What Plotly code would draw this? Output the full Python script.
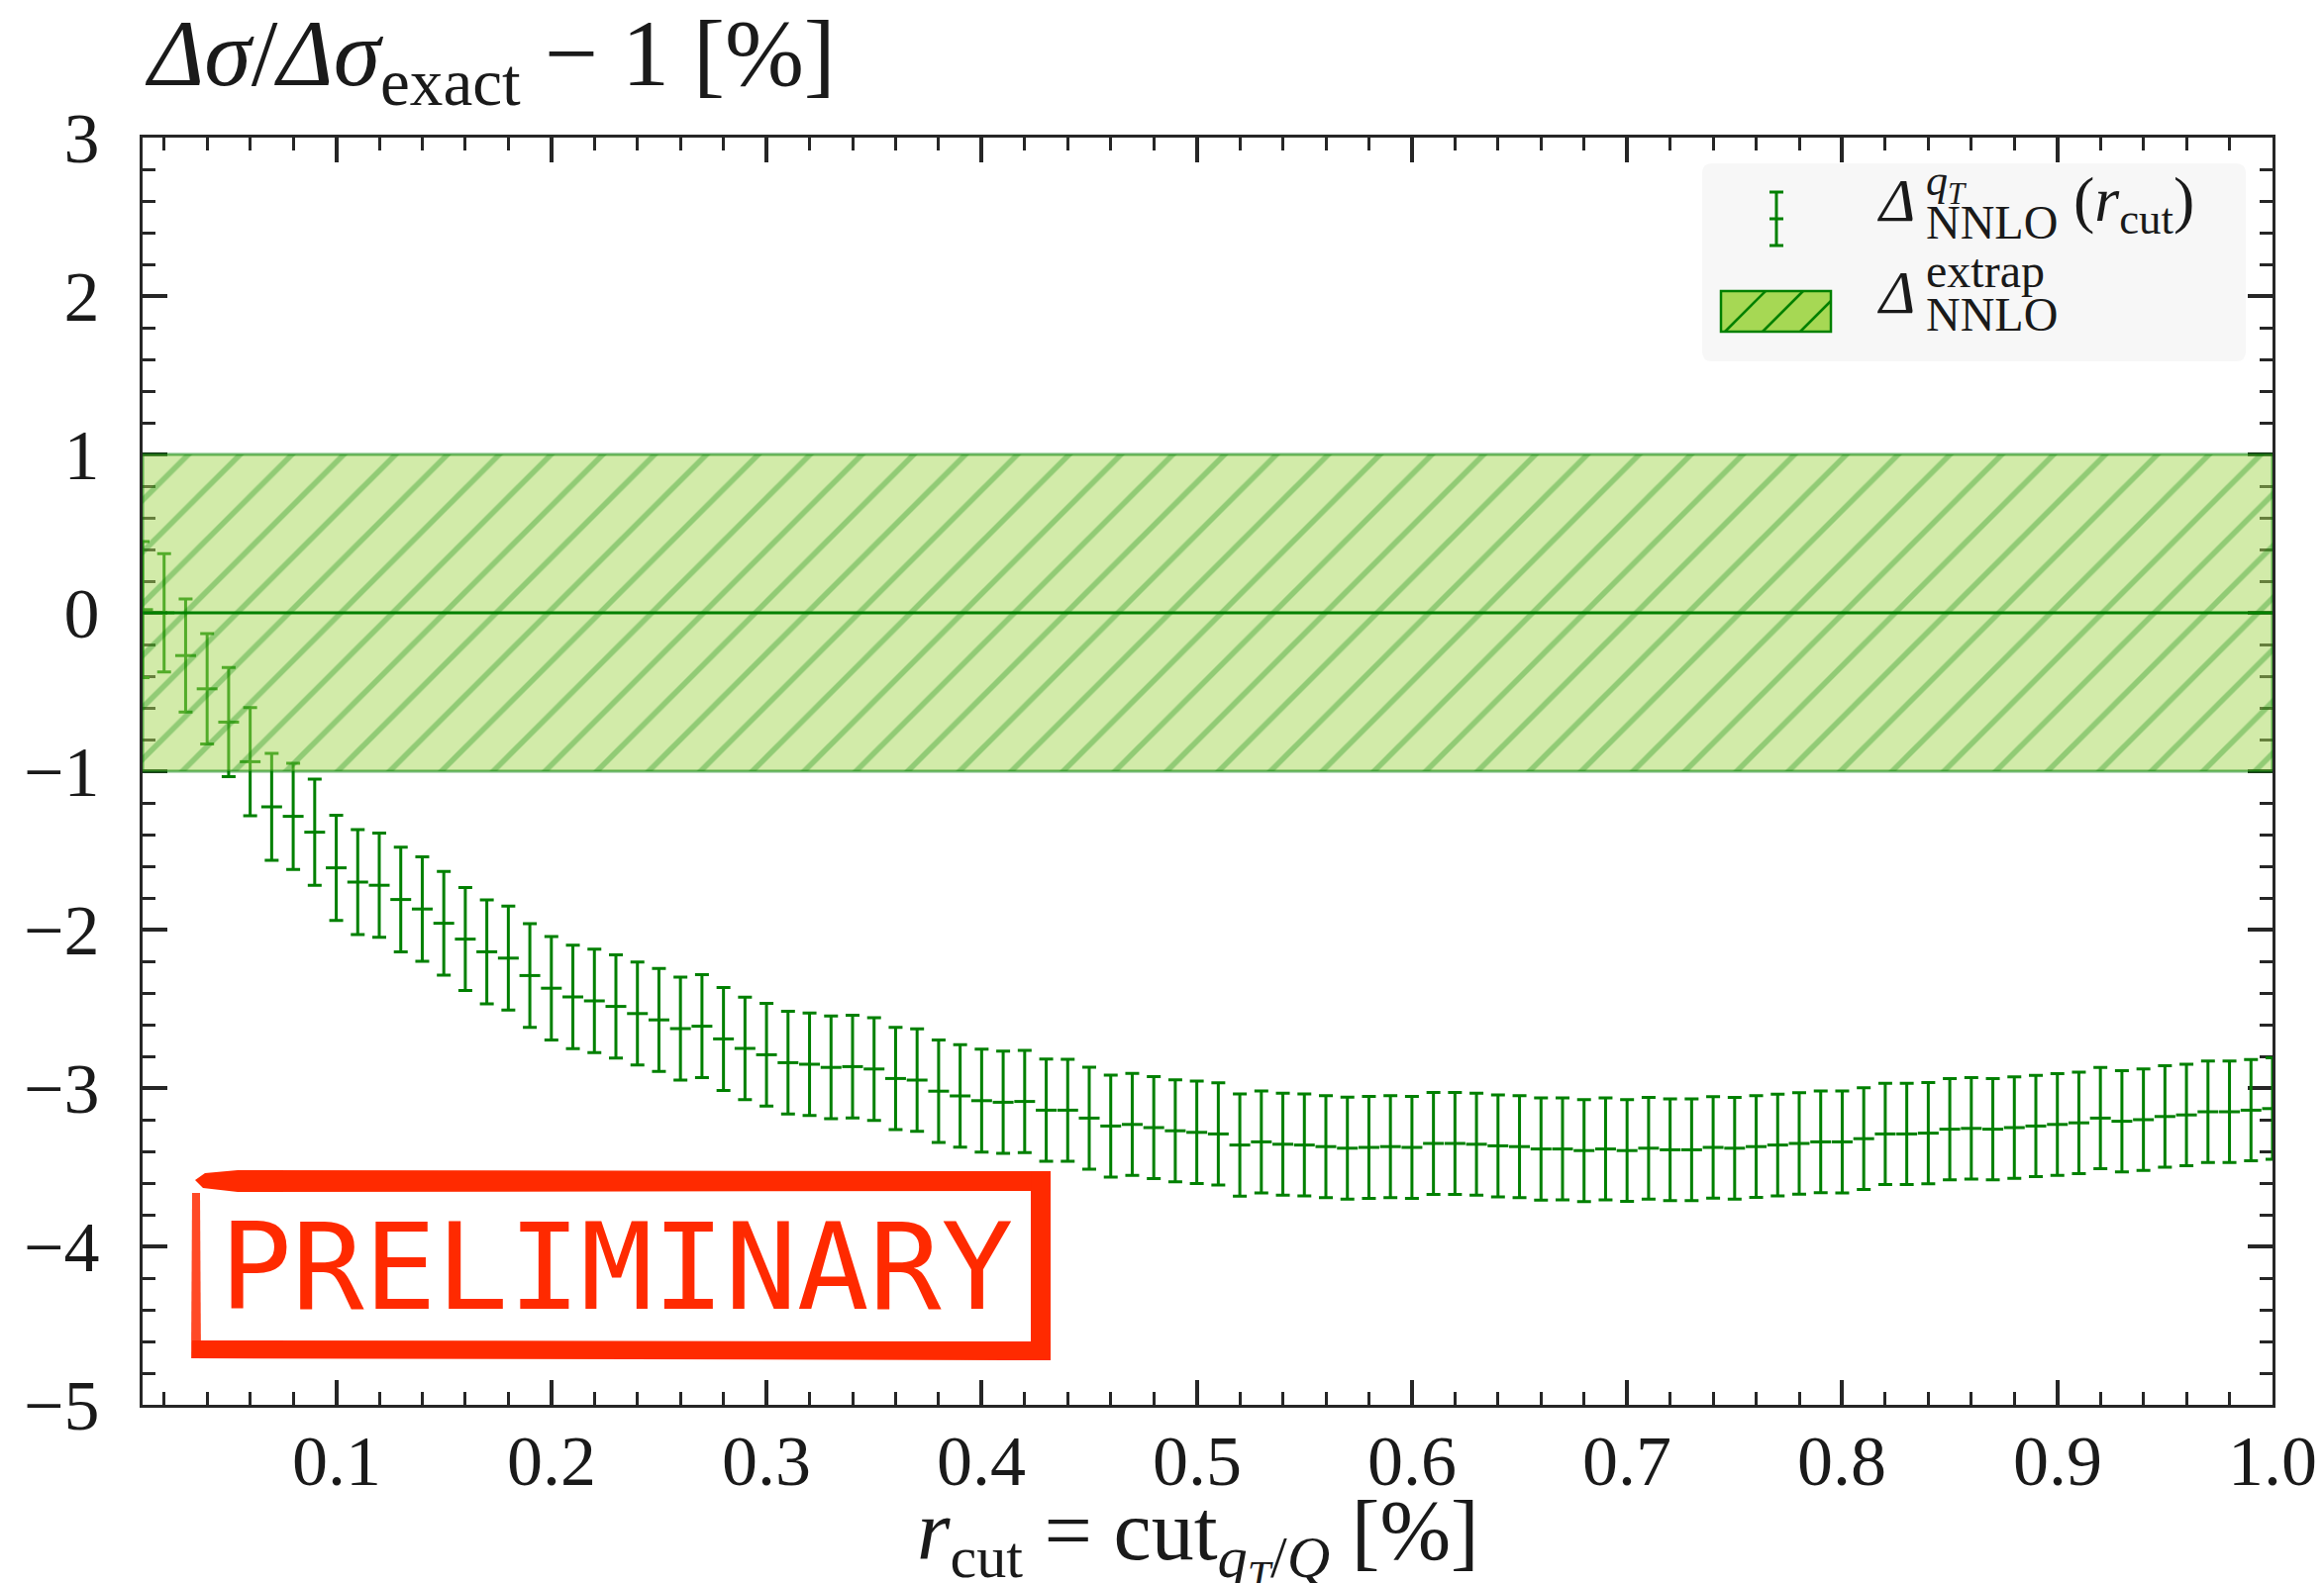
import plotly.graph_objects as go

# ---------------------------------------------------------------- data
r_cut = [
    0.01, 0.02, 0.03, 0.04, 0.05, 0.06, 0.07, 0.08, 0.09, 0.10,
    0.11, 0.12, 0.13, 0.14, 0.15, 0.16, 0.17, 0.18, 0.19, 0.20,
    0.21, 0.22, 0.23, 0.24, 0.25, 0.26, 0.27, 0.28, 0.29, 0.30,
    0.31, 0.32, 0.33, 0.34, 0.35, 0.36, 0.37, 0.38, 0.39, 0.40,
    0.41, 0.42, 0.43, 0.44, 0.45, 0.46, 0.47, 0.48, 0.49, 0.50,
    0.51, 0.52, 0.53, 0.54, 0.55, 0.56, 0.57, 0.58, 0.59, 0.60,
    0.61, 0.62, 0.63, 0.64, 0.65, 0.66, 0.67, 0.68, 0.69, 0.70,
    0.71, 0.72, 0.73, 0.74, 0.75, 0.76, 0.77, 0.78, 0.79, 0.80,
    0.81, 0.82, 0.83, 0.84, 0.85, 0.86, 0.87, 0.88, 0.89, 0.90,
    0.91, 0.92, 0.93, 0.94, 0.95, 0.96, 0.97, 0.98, 0.99, 1.00,
]

delta_nnlo = [
    0.02, 0.00, -0.27, -0.48, -0.69, -0.94, -1.225, -1.285, -1.385, -1.61,
    -1.70, -1.72, -1.81, -1.87, -1.96, -2.06, -2.14, -2.18, -2.29, -2.37,
    -2.425, -2.45, -2.485, -2.53, -2.57, -2.625, -2.61, -2.69, -2.75, -2.79,
    -2.84, -2.85, -2.87, -2.865, -2.88, -2.94, -2.95, -3.02, -3.05, -3.08,
    -3.09, -3.085, -3.14, -3.14, -3.19, -3.24, -3.23, -3.25, -3.27, -3.28,
    -3.29, -3.36, -3.34, -3.355, -3.36, -3.37, -3.38, -3.375, -3.37, -3.375,
    -3.35, -3.35, -3.355, -3.365, -3.37, -3.385, -3.385, -3.395, -3.385, -3.395,
    -3.38, -3.39, -3.39, -3.375, -3.38, -3.37, -3.36, -3.35, -3.34, -3.34,
    -3.32, -3.29, -3.29, -3.285, -3.26, -3.255, -3.26, -3.25, -3.24, -3.23,
    -3.22, -3.19, -3.21, -3.20, -3.18, -3.17, -3.15, -3.15, -3.14, -3.13,
]

delta_err = [
    0.43, 0.374, 0.357, 0.348, 0.345, 0.341, 0.338, 0.335, 0.335, 0.332,
    0.332, 0.329, 0.331, 0.330, 0.327, 0.325, 0.328, 0.328, 0.327, 0.327,
    0.326, 0.326, 0.326, 0.325, 0.325, 0.325, 0.325, 0.325, 0.324, 0.324,
    0.324, 0.324, 0.324, 0.324, 0.324, 0.323, 0.323, 0.323, 0.323, 0.325,
    0.323, 0.323, 0.323, 0.322, 0.322, 0.322, 0.322, 0.322, 0.322, 0.323,
    0.323, 0.323, 0.322, 0.322, 0.322, 0.322, 0.322, 0.322, 0.322, 0.322,
    0.322, 0.322, 0.322, 0.322, 0.322, 0.323, 0.322, 0.322, 0.322, 0.321,
    0.321, 0.321, 0.321, 0.321, 0.321, 0.321, 0.321, 0.321, 0.321, 0.322,
    0.321, 0.320, 0.320, 0.320, 0.320, 0.320, 0.320, 0.320, 0.320, 0.321,
    0.320, 0.320, 0.320, 0.320, 0.320, 0.320, 0.320, 0.320, 0.320, 0.320,
]

extrap_central = 0.0
extrap_unc = 1.0

x_ticks = [0.1, 0.2, 0.3, 0.4, 0.5, 0.6, 0.7, 0.8, 0.9, 1.0]
x_tick_labels = ["0.1", "0.2", "0.3", "0.4", "0.5", "0.6", "0.7", "0.8", "0.9", "1.0"]
y_ticks = [-5, -4, -3, -2, -1, 0, 1, 2, 3]
y_tick_labels = ["\u22125", "\u22124", "\u22123", "\u22122", "\u22121", "0", "1", "2", "3"]

# ---------------------------------------------------------------- geometry / style
W, H = 2347, 1599
ML, MR, MT, MB = 144, 52, 139, 180
PW, PH = W - ML - MR, H - MT - MB

GREEN = "#008000"
INK = "#262626"
TEXT = "#1a1a1a"
SERIF = "Liberation Serif"
STAMP_RED = "#ff2a00"
TICK_FS = 72


def px(x):
    """page pixel column -> paper fraction"""
    return (x - ML) / PW


def py(y):
    """page pixel row -> paper fraction"""
    return (H - MB - y) / PH


def path_of(points):
    return "M " + " L ".join(f"{px(a):.5f},{py(b):.5f}" for a, b in points) + " Z"


fig = go.Figure()

# measured points with their uncertainties
fig.add_trace(go.Scatter(
    x=r_cut, y=delta_nnlo, mode="markers",
    marker=dict(symbol="line-ew", size=15, color=GREEN,
                line=dict(width=3, color=GREEN)),
    error_y=dict(type="data", array=delta_err, visible=True,
                 color=GREEN, thickness=3, width=7),
    cliponaxis=True, hoverinfo="skip",
))

# extrapolated value: hatched uncertainty band
lo, hi = extrap_central - extrap_unc, extrap_central + extrap_unc
x0, x1 = r_cut[0], r_cut[-1]
fig.add_trace(go.Scatter(
    x=[x0, x1, x1, x0, x0], y=[lo, lo, hi, hi, lo],
    mode="lines", fill="toself",
    fillcolor="rgba(166,216,84,0.5)",
    fillpattern=dict(shape="/", fgcolor="rgba(0,128,0,0.62)",
                     bgcolor="rgba(166,216,84,0.5)", size=37, solidity=0.15),
    line=dict(color="rgba(0,128,0,0.55)", width=3),
    hoverinfo="skip",
))
fig.add_trace(go.Scatter(
    x=[x0, x1], y=[extrap_central, extrap_central], mode="lines",
    line=dict(color=GREEN, width=3), hoverinfo="skip",
))

axis_common = dict(
    showline=True, linecolor=INK, linewidth=3, mirror="allticks",
    ticks="inside", ticklen=25, tickwidth=4, tickcolor=INK,
    showgrid=False, zeroline=False, layer="below traces",
    tickfont=dict(family=SERIF, size=TICK_FS, color=TEXT),
)

fig.update_xaxes(
    range=[x0, x1], tickmode="array", tickvals=x_ticks, ticktext=x_tick_labels,
    showticklabels=False,
    minor=dict(dtick=0.02, tick0=0, ticks="inside", ticklen=13,
               tickwidth=3, tickcolor=INK, showgrid=False),
    **axis_common,
)
fig.update_yaxes(
    range=[-5, 3], tickmode="array", tickvals=y_ticks, ticktext=y_tick_labels,
    minor=dict(dtick=0.2, tick0=0, ticks="inside", ticklen=13,
               tickwidth=3, tickcolor=INK, showgrid=False),
    ticklabelstandoff=26,
    **axis_common,
)

annotations = []

# x tick labels, placed on the data scale just below the frame
for v, lab in zip(x_ticks, x_tick_labels):
    annotations.append(dict(
        xref="x", yref="paper", x=v, y=py(1436), xanchor="center", yanchor="top",
        text=lab, showarrow=False, borderpad=0, borderwidth=0,
        font=dict(family=SERIF, size=TICK_FS, color=TEXT),
    ))


def text_at(x, baseline, text, size, family=SERIF, color=TEXT, asc=0.891):
    annotations.append(dict(
        xref="paper", yref="paper", x=px(x), y=py(baseline - asc * size),
        xanchor="left", yanchor="top", text=text, showarrow=False,
        borderpad=0, borderwidth=0,
        font=dict(family=family, size=size, color=color),
    ))


# axis titles
text_at(146, 86, "<i>Δσ</i>/<i>Δσ</i><sub>exact</sub> \u2212 1 [%]", 96)
text_at(926, 1575, "<i>r</i><sub>cut</sub> = cut<sub><i>q</i><sub><i>T</i></sub>/<i>Q</i></sub> [%]", 86)

# legend
shapes = []
lg_l, lg_r, lg_t, lg_b, rad = 1719, 2268, 165, 365, 10
shapes.append(dict(
    type="path", xref="paper", yref="paper", layer="above",
    path=(f"M {px(lg_l + rad)},{py(lg_t)} L {px(lg_r - rad)},{py(lg_t)} "
          f"Q {px(lg_r)},{py(lg_t)} {px(lg_r)},{py(lg_t + rad)} "
          f"L {px(lg_r)},{py(lg_b - rad)} Q {px(lg_r)},{py(lg_b)} {px(lg_r - rad)},{py(lg_b)} "
          f"L {px(lg_l + rad)},{py(lg_b)} Q {px(lg_l)},{py(lg_b)} {px(lg_l)},{py(lg_b - rad)} "
          f"L {px(lg_l)},{py(lg_t + rad)} Q {px(lg_l)},{py(lg_t)} {px(lg_l + rad)},{py(lg_t)} Z"),
    fillcolor="#f7f7f7", line=dict(width=0),
))

# legend glyph: error bar
gx, g_top, g_mid, g_bot, cap = 1794, 194, 221, 248, 7
for a, b, c, d in [(gx, g_top, gx, g_bot), (gx - cap, g_top, gx + cap, g_top),
                   (gx - cap, g_mid, gx + cap, g_mid), (gx - cap, g_bot, gx + cap, g_bot)]:
    shapes.append(dict(type="line", xref="paper", yref="paper", layer="above",
                       x0=px(a), y0=py(b), x1=px(c), y1=py(d),
                       line=dict(color=GREEN, width=3)))

# legend glyph: hatched patch
pl, pr, pt, pb = 1738, 1849, 294, 335
shapes.append(dict(type="rect", xref="paper", yref="paper", layer="above",
                   x0=px(pl), y0=py(pb), x1=px(pr), y1=py(pt),
                   fillcolor="#a6d854", line=dict(width=0)))
for c0 in (1742, 1780, 1818):
    ex = min(c0 + (pb - pt), pr)
    shapes.append(dict(type="line", xref="paper", yref="paper", layer="above",
                       x0=px(c0), y0=py(pb), x1=px(ex), y1=py(pb - (ex - c0)),
                       line=dict(color=GREEN, width=2.5)))
shapes.append(dict(type="rect", xref="paper", yref="paper", layer="above",
                   x0=px(pl), y0=py(pb), x1=px(pr), y1=py(pt),
                   fillcolor="rgba(0,0,0,0)", line=dict(color=GREEN, width=2.5)))

# legend labels
text_at(1895, 223, "<i>Δ</i>", 62)
text_at(1945, 197, "<i>q</i><sub><i>T</i></sub>", 44)
text_at(1945, 241, "NNLO", 48)
text_at(2094, 223, "(<i>r</i><sub>cut</sub>)", 64)
text_at(1895, 316, "<i>Δ</i>", 62)
text_at(1945, 290, "extrap", 48)
text_at(1945, 334, "NNLO", 48)

# "PRELIMINARY" stamp
stamp_parts = [
    [(1061, 1183), (240, 1182), (207, 1185), (197, 1192), (205, 1200), (240, 1204), (1061, 1203)],
    [(1041, 1183), (1061, 1183), (1061, 1373), (1041, 1373)],
    [(194, 1354), (1061, 1355), (1061, 1374), (194, 1372)],
]
for pts in stamp_parts:
    shapes.append(dict(type="path", xref="paper", yref="paper", layer="above",
                       path=path_of(pts), fillcolor=STAMP_RED, line=dict(width=0)))
shapes.append(dict(type="path", xref="paper", yref="paper", layer="above",
                   path=path_of([(194, 1205), (202, 1205), (203, 1372), (193, 1372)]),
                   fillcolor=STAMP_RED, opacity=0.85, line=dict(width=0)))
text_at(222, 1322, "PRELIMINARY", 121, family="DejaVu Sans Mono",
        color=STAMP_RED, asc=0.928)

fig.update_layout(
    width=W, height=H, autosize=False,
    margin=dict(l=ML, r=MR, t=MT, b=MB, pad=0),
    paper_bgcolor="white", plot_bgcolor="white",
    showlegend=False,
    shapes=shapes, annotations=annotations,
)

fig.write_html("out.html")
